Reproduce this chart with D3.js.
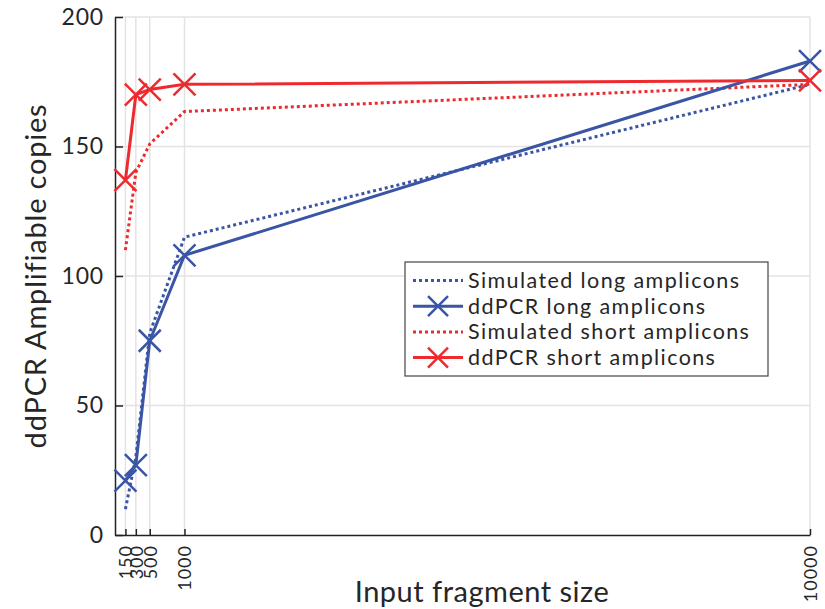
<!DOCTYPE html>
<html>
<head>
<meta charset="utf-8">
<script src="https://cdn.jsdelivr.net/npm/d3@7"></script>
<style>
  body { margin: 0; background: #fff; }
  svg text { font-family: Lato, "Open Sans", sans-serif; fill: #262626; }
</style>
</head>
<body>
<div id="chart"></div>
<script>
var fragmentSizes = [150, 300, 500, 1000, 10000];
var simLong = [10, 30, 78, 115, 174];
var ddLong = [21, 27, 75, 108, 183];
var simShort = [110, 140, 151, 163.5, 174];
var ddShort = [137, 170, 172, 174, 175.5];
var yTicks = [0, 50, 100, 150, 200];

var seriesList = [
  {name: "Simulated long amplicons", values: simLong, color: "#3a55a5", dotted: true},
  {name: "ddPCR long amplicons", values: ddLong, color: "#3a55a5", dotted: false},
  {name: "Simulated short amplicons", values: simShort, color: "#ee2a2e", dotted: true},
  {name: "ddPCR short amplicons", values: ddShort, color: "#ee2a2e", dotted: false}
];

var width = 825, height = 609;
var margin = {left: 115, right: 15, top: 17, bottom: 74};

var svg = d3.select("#chart").append("svg")
  .attr("width", width).attr("height", height);

var x = d3.scaleLinear().domain([0, 10000]).range([margin.left, width - margin.right]);
var y = d3.scaleLinear().domain([0, 200]).range([height - margin.bottom, margin.top]);

// grid
var grid = svg.append("g").attr("class", "grid");
grid.selectAll("line.gy")
  .data(yTicks.slice(1))
  .enter().append("line")
  .attr("x1", x(0)).attr("x2", x(10000))
  .attr("y1", function(d) { return y(d); })
  .attr("y2", function(d) { return y(d); })
  .attr("stroke", "#e3e3e3").attr("stroke-width", 1.5);
grid.selectAll("line.gx")
  .data(fragmentSizes)
  .enter().append("line")
  .attr("x1", function(d) { return x(d); })
  .attr("x2", function(d) { return x(d); })
  .attr("y1", y(0)).attr("y2", y(200))
  .attr("stroke", "#e3e3e3").attr("stroke-width", 1.5);

// axes
var yAxis = d3.axisLeft(y).tickValues(yTicks).tickSizeInner(-8).tickSizeOuter(0).tickPadding(11);
var gy = svg.append("g").attr("transform", "translate(" + margin.left + ",0)").call(yAxis);
gy.select(".domain").attr("stroke", "#222").attr("stroke-width", 1.5);
gy.selectAll(".tick line").attr("stroke", "#222").attr("stroke-width", 1.5);
gy.selectAll(".tick text").style("font-size", "23px").style("letter-spacing", "0.8px");

var xAxis = d3.axisBottom(x).tickValues(fragmentSizes).tickSizeInner(-6).tickSizeOuter(0).tickFormat(d3.format("d"));
var gx = svg.append("g").attr("transform", "translate(0," + y(0) + ")").call(xAxis);
gx.select(".domain").attr("stroke", "#222").attr("stroke-width", 1.5);
gx.selectAll(".tick line").attr("stroke", "#222").attr("stroke-width", 1.5);
gx.selectAll(".tick text")
  .style("font-size", "18px")
  .style("letter-spacing", "1px")
  .attr("transform", "rotate(-90)")
  .attr("text-anchor", "end")
  .attr("x", -10).attr("y", 0).attr("dy", "0.35em");

// axis titles
svg.append("text")
  .attr("transform", "translate(46," + ((y(0) + y(200)) / 2) + ") rotate(-90)")
  .attr("text-anchor", "middle")
  .style("font-size", "29px")
  .style("letter-spacing", "0.8px")
  .text("ddPCR Amplifiable copies");
svg.append("text")
  .attr("x", 482).attr("y", 602)
  .attr("text-anchor", "middle")
  .style("font-size", "29px")
  .style("letter-spacing", "0.5px")
  .text("Input fragment size");

// lines
var line = d3.line()
  .x(function(d) { return x(d[0]); })
  .y(function(d) { return y(d[1]); });

var drawOrder = [2, 0, 1, 3];
drawOrder.forEach(function(i) {
  var s = seriesList[i];
  var pts = fragmentSizes.map(function(f, k) { return [f, s.values[k]]; });
  svg.append("path")
    .datum(pts)
    .attr("fill", "none")
    .attr("stroke", s.color)
    .attr("stroke-width", 3)
    .attr("stroke-dasharray", s.dotted ? "3,3" : null)
    .attr("d", line);
  if (!s.dotted) {
    var r = 11;
    svg.append("g").selectAll("path")
      .data(pts)
      .enter().append("path")
      .attr("fill", "none")
      .attr("stroke", s.color)
      .attr("stroke-width", 2.5)
      .attr("d", function(d) {
        var cx = x(d[0]), cy = y(d[1]);
        return "M" + (cx - r) + "," + (cy - r) + "L" + (cx + r) + "," + (cy + r) +
               "M" + (cx - r) + "," + (cy + r) + "L" + (cx + r) + "," + (cy - r);
      });
  }
});

// legend
var lg = svg.append("g").attr("transform", "translate(405,262)");
lg.append("rect")
  .attr("width", 363).attr("height", 114)
  .attr("fill", "#fff").attr("stroke", "#444").attr("stroke-width", 1.2);
seriesList.forEach(function(s, i) {
  var ry = 18.5 + i * 25.7;
  lg.append("line")
    .attr("x1", 8).attr("x2", 58).attr("y1", ry).attr("y2", ry)
    .attr("stroke", s.color).attr("stroke-width", 3)
    .attr("stroke-dasharray", s.dotted ? "3,3" : null);
  if (!s.dotted) {
    var r = 10;
    lg.append("path")
      .attr("fill", "none").attr("stroke", s.color).attr("stroke-width", 2.5)
      .attr("d", "M" + (33 - r) + "," + (ry - r) + "L" + (33 + r) + "," + (ry + r) +
                 "M" + (33 - r) + "," + (ry + r) + "L" + (33 + r) + "," + (ry - r));
  }
  lg.append("text")
    .attr("x", 63).attr("y", ry).attr("dy", "0.35em")
    .style("font-size", "21.5px")
    .style("letter-spacing", "1.4px")
    .text(s.name);
});
</script>
</body>
</html>
